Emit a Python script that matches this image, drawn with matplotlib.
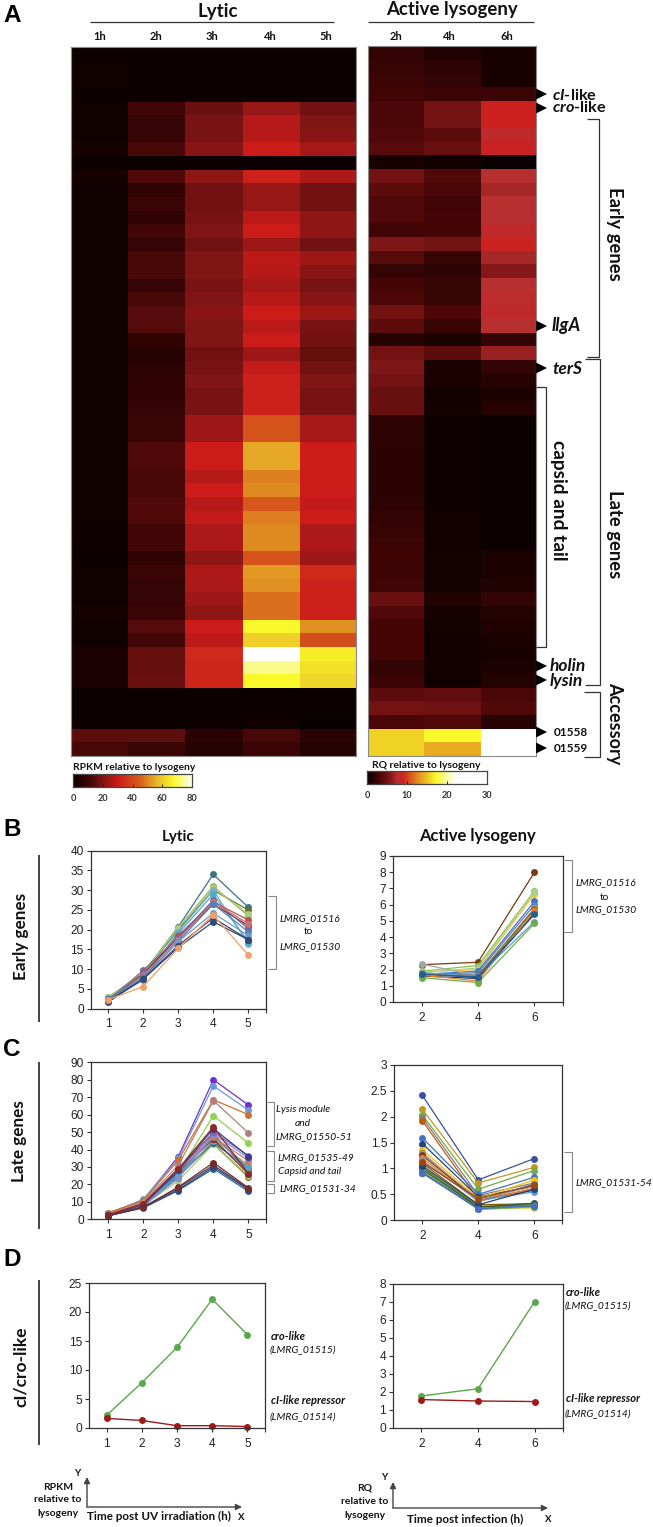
import numpy as np
import matplotlib
matplotlib.use("Agg")
import matplotlib.pyplot as plt
from matplotlib.colors import LinearSegmentedColormap, Normalize

W, H = 653, 1527
HDR = "Lato"
ARIAL = "Liberation Sans"
plt.rcParams["font.family"] = [ARIAL, "DejaVu Sans"]
plt.rcParams["mathtext.fontset"] = "custom"
plt.rcParams["mathtext.it"] = "Lato:italic:bold"
plt.rcParams["mathtext.rm"] = "Lato:bold"

# ---------- heatmap data ----------
lytic_hours = ["1h", "2h", "3h", "4h", "5h"]
active_hours = ["2h", "4h", "6h"]
lytic_1h = [1,2,2,1,2,2,2,3,1,3,2,2,2,2,2,2,2,2,2,2,2,2,2,2,2,2,2,2,2,2,2,2,2,2,2,1.5,1.5,1,2,2,2,2.5,2,2,4,4,4,1,1,1,15,12]
lytic_2h = [1,1,1,1,11,9,9,12,1,13,8,10,8,11,9,12,12,9,12,14,14,8,6,7,8,8,9,10,10,13,13,12,12,13,13,11,11,8,10,9,9,10,14,11,16,16,17,1,1,1,15,10]
lytic_3h = [1,1,1,1,17,19,19,21,1,22,18,18,19,20,18,20,20,19,20,21,20,20,18,19,20,19,19,24,24,30,30,27,30,27,29,26,26,22,26,26,24,22,30,28,33,32,32,1,1,1.5,7,6]
lytic_4h = [1,1,1,1,23,27,27,30,1,31,23,23,28,30,24,28,27,25,27,30,28,30,24,29,31,31,31,42,42,54,54,49,50,43,49,50,50,42,52,51,47,47,67,60,80,73,67,1,1,2,12,10]
lytic_5h = [1,1,1,1,18,20,21,25,1,26,18,18,22,22,18,24,21,19,21,24,19,18,16,18,20,19,19,25,25,30,30,30,30,29,30,26,26,24,33,31,31,31,51,41,65,63,61,1,1,0.5,7,6]
active_2h = [2,2.3,2.5,2.8,3.2,3.2,3.5,3.7,0.8,5,4,3.5,3.5,2.8,5.5,3.7,2.2,3,3.3,5,4,1.5,5,5.5,5,4.5,4.5,1.8,1.8,1.7,1.7,1.7,1.7,1.8,2,2.3,2.5,2.6,2.6,2.8,4.5,3.5,3,3,3,2,2.5,4,5,3.2,15.5,15.5]
active_4h = [1.2,1.8,2,2.5,5,5,4,4.5,0.5,3.5,3.2,2.8,3,3,5,2.3,1.8,2.3,2.3,3.3,2.3,1,4,1,1,0.5,0.7,0.4,0.4,0.4,0.4,0.4,0.4,0.4,0.5,0.5,0.5,0.6,0.6,0.7,1.2,0.8,0.6,0.5,0.5,0.5,0.5,4.3,4.8,3.5,17,14]
active_6h = [0.9,0.9,0.9,2.5,8.8,8.8,8,8.6,0.2,7.5,7,7.6,7.6,8,8.7,7,5.8,7.6,7.8,8,7.5,2,6.5,2,1.5,1,1.5,0.3,0.3,0.3,0.3,0.3,0.3,0.3,0.3,0.3,0.3,1,1,1.2,2,1.3,1.2,1,0.9,1,1.3,3.2,3.5,1.5,30,30]

lytic_cmap = LinearSegmentedColormap.from_list("lyt", [
    (0, "#080000"), (10/80, "#3c0505"), (20/80, "#801515"), (30/80, "#cc1c1a"),
    (45/80, "#d8601c"), (56/80, "#e8b828"), (67/80, "#f8f828"), (1, "#ffffff")])
active_cmap = LinearSegmentedColormap.from_list("act", [
    (0, "#080000"), (3/30, "#480606"), (6/30, "#8a1a1a"), (7.5/30, "#b83030"), (8.8/30, "#cc2020"),
    (12/30, "#e07a1c"), (17/30, "#f8f828"), (22/30, "#ffffff"), (1, "#ffffff")])

# ---------- line data ----------
early_x = [1, 2, 3, 4, 5]
early_colors = ["#3a7090","#9BBB59","#5F7530","#AFC97A","#7aaccc","#4BACC6","#C0504D","#772C2A","#8064A2","#CD7371","#4F81BD","#729ACA","#4D3B62","#2C4D75","#F0A06A"]
early_lytic = [
 [2.8,9,20.7,34,25.7],[3.0,9,20.5,31,23.5],[2.7,8.7,20,30,25],[2.9,8.7,20.5,30.5,24],
 [2.5,7.2,19.5,30,16.5],[2.6,7.5,19,29,17],[2.4,8.5,18.5,27,22.5],[2.2,8.8,18,26.5,21],
 [2.1,9.7,18,27.5,20.3],[2.3,8.5,17.5,27,21.5],[2.5,8,17,26.5,19.5],[2,7.5,17,24.2,18.5],
 [1.7,7.5,16,23,17.5],[2,7.5,15.5,22,17.5],[2.3,5.6,15.3,23.7,13.6]]
active_x = [2, 4, 6]
early_active_colors = ["#7a3a10","#8cc152","#f0c030","#A9D18E","#4472c4","#5b7fd0","#a5a5a5","#264478","#1f3864","#636363","#997300","#ed7d31","#5b9bd5","#70ad47","#255e91"]
early_active = [
 [2.3,2.45,8],[1.9,2.25,6.85],[1.85,2.0,6.65],[1.8,2.1,6.8],[1.7,1.9,6.2],[1.7,1.8,6.0],
 [2.35,1.6,5.8],[1.75,1.5,5.55],[1.6,1.45,5.5],[1.75,1.65,5.7],[1.75,1.6,5.75],[1.65,1.3,5.6],
 [1.8,1.6,4.95],[1.5,1.2,4.85],[1.7,1.55,5.4]]
late_colors = ["#7030d0","#6a9ad8","#d0702a","#b08080","#92d050","#9BBB59","#5F7530","#AFC97A","#276A7C","#729ACA","#F79646","#4F81BD","#772C2A","#C0504D","#4BACC6","#CD7371","#8090d0","#8064A2","#3a3a90","#8b2a2a","#3060a0","#2C4D75","#4D3B62","#772C2A"]
late_lytic = [
 [3.5,11,36,80,65.5],[3,11.5,35,76.5,62.5],[3.8,10.5,34,68.5,60],[3,10,31,68,49.5],[2.5,8,27,59.3,43.7],
 [2,8,25,43,24],[2,7.5,26,43.5,24.5],[2,8,22,43,25],[2.3,7.5,25,44,29],[2.5,8,24,45,28],
 [3,9.5,28,46,31],[2.5,8.5,25,48,29],[2.5,8,27,46,26],[3,9,29,49,27],[2.5,8,26,47,30],
 [3,9,29,47,33.5],[2.5,8,23.5,49,35],[2.5,8,28,50,36.5],[2.5,8.5,28,52,36],[2.5,9,29,53,26],
 [2,6.5,16.5,29,16],[2,6.8,17,30,17],[2,7,18,31,17.5],[2.3,7,18.5,32.5,18]]
late_active_colors = ["#3a50a0","#c09a20","#70ad47","#808080","#c55a11","#4472c4","#264478","#ffc000","#7f7f7f","#a5a5a5","#843c0c","#ed7d31","#5b9bd5","#7f6000","#bf9000","#548235","#385723","#ffd966","#a9d18e","#70ad47","#2e75b6","#264478","#9e480e","#4472c4"]
late_active = [
 [2.41,.78,1.19],[2.14,.72,1.02],[2.03,.6,.96],[1.98,.48,.72],[1.92,.4,.6],[1.59,.5,.83],
 [1.48,.45,.66],[1.36,.42,.78],[1.3,.38,.7],[1.28,.4,.65],[1.25,.38,.58],[1.2,.36,.62],
 [1.15,.38,.55],[1.1,.3,.32],[1.0,.28,.27],[1.02,.26,.30],[.98,.25,.33],[.9,.22,.23],
 [.93,.22,.25],[.95,.21,.26],[.92,.23,.28],[1.05,.3,.6],[1.12,.42,.68],[.91,.22,.29]]
cro_lytic = [2.2,7.8,13.9,22.2,16.1]
ci_lytic = [1.65,1.3,.4,.4,.25]
cro_active = [1.78,2.18,7.02]
ci_active = [1.58,1.5,1.47]

fig = plt.figure(figsize=(W/100, H/100), dpi=100, facecolor="white")

def ax_px(x0, y0, x1, y1, **kw):
    return fig.add_axes([x0/W, 1-y1/H, (x1-x0)/W, (y1-y0)/H], **kw)

# ---------- heatmaps ----------
def heat(box, cols, cmap, vmax):
    ax = ax_px(*box)
    ax.imshow(np.array(cols).T, cmap=cmap, norm=Normalize(0, vmax), aspect="auto", interpolation="nearest")
    ax.set_xticks([]); ax.set_yticks([])
    for s in ax.spines.values():
        s.set_color("#8a8a8a"); s.set_linewidth(0.8)
    return ax

heat((71, 47, 356, 756), [lytic_1h, lytic_2h, lytic_3h, lytic_4h, lytic_5h], lytic_cmap, 80)
heat((368, 46, 536, 756), [active_2h, active_4h, active_6h], active_cmap, 30)

def cbar(box, cmap, vmax, ticks):
    ax = ax_px(*box)
    ax.imshow(np.linspace(0, vmax, 256)[None, :], cmap=cmap, norm=Normalize(0, vmax), aspect="auto",
              extent=[0, vmax, 0, 1])
    ax.set_yticks([])
    ax.set_xticks(ticks)
    ax.tick_params(axis="x", direction="in", length=2, width=0.7, pad=5, labelsize=6.6, color="#222")
    for lab in ax.get_xticklabels():
        lab.set_fontweight("bold"); lab.set_family(HDR); lab.set_color("#333")
    for s in ax.spines.values():
        s.set_color("#444"); s.set_linewidth(0.9)

cbar((73, 774, 192, 787), lytic_cmap, 80, [0, 20, 40, 60, 80])
cbar((367, 771, 487, 784), active_cmap, 30, [0, 10, 20, 30])

# ---------- line panels ----------
def panel(box, xs, series, colors, ylim, yticks, ms=5.0, lw=0.9, ylabels=None):
    ax = ax_px(*box)
    pos = np.arange(1, len(xs)+1)
    for ys, c in zip(series, colors):
        ax.plot(pos, ys, "-o", color=c, lw=lw, ms=ms, mew=0, clip_on=False)
    ax.set_xlim(0.5, len(xs)+0.5)
    ax.set_ylim(*ylim)
    ax.set_xticks(pos); ax.set_xticklabels([str(v) for v in xs])
    ax.set_xticks([len(xs)+0.5], minor=True)
    ax.set_yticks(yticks)
    if ylabels:
        ax.set_yticklabels(ylabels)
    ax.tick_params(axis="both", which="both", direction="out", length=3, width=0.8, color="#333", labelcolor="#222", labelsize=8.6)
    ax.tick_params(axis="x", pad=4)
    ax.tick_params(axis="y", pad=2)
    for s in ax.spines.values():
        s.set_color("#333"); s.set_linewidth(0.9)
    return ax

panel((90.7, 850.7, 265.7, 1008.7), early_x, early_lytic, early_colors, (0, 40), range(0, 41, 5))
panel((393.3, 856, 562.7, 1002), active_x, early_active, early_active_colors, (0, 9), range(0, 10))
panel((90.7, 1062.3, 266, 1219.3), early_x, late_lytic, late_colors, (0, 90), range(0, 91, 10))
panel((394.3, 1064.7, 562.3, 1220.3), active_x, late_active, late_active_colors, (0, 3),
      [0, .5, 1, 1.5, 2, 2.5, 3], ylabels=["0", "0.5", "1", "1.5", "2", "2.5", "3"])
panel((89, 1283, 265, 1428), early_x, [cro_lytic, ci_lytic], ["#5aa84a", "#a01818"], (0, 25), range(0, 26, 5), lw=1.0)
panel((393, 1284, 563, 1428), active_x, [cro_active, ci_active], ["#5aa84a", "#a01818"], (0, 8), range(0, 9), lw=1.0)

# ---------- overlay for annotations ----------
ov = fig.add_axes([0, 0, 1, 1], zorder=10)
ov.set_xlim(0, W); ov.set_ylim(H, 0); ov.axis("off"); ov.patch.set_alpha(0)

def T(x, y, s, size=8, weight="normal", style="normal", ha="left", va="center", rot=0, fam=HDR, color="#111"):
    ov.text(x, y, s, fontsize=size, fontweight=weight, fontstyle=style, ha=ha, va=va, rotation=rot,
            family=fam, color=color, rotation_mode="anchor")

def L(xs, ys, lw=0.9, c="#333"):
    ov.plot(xs, ys, color=c, lw=lw, solid_capstyle="butt", solid_joinstyle="miter")

def bracket(x0, x1, y0, y1, lw=0.9, c="#333"):
    L([x0, x1, x1, x0], [y0, y0, y1, y1], lw=lw, c=c)

# panel letters
for x, y, s in [(3, 15, "A"), (3, 830, "B"), (3, 1050, "C"), (3, 1260, "D")]:
    T(x, y, s, size=17.5, weight="bold", fam=ARIAL, color="#000")

# headers
T(218, 12, "Lytic", size=13.5, weight="bold", ha="center")
T(452, 10, "Active lysogeny", size=13.4, weight="bold", ha="center")
L([90, 334], [22, 22]); L([368, 534], [22, 22])
for x, s in zip([100, 156, 212, 270, 326], lytic_hours):
    T(x, 37, s, size=8, weight="bold", ha="center")
for x, s in zip([396, 449, 507], active_hours):
    T(x, 36, s, size=8, weight="bold", ha="center")

T(73, 767, "RPKM relative to lysogeny", size=7.4, weight="bold")
T(372, 766, "RQ relative to lysogeny", size=7.5, weight="bold")

# gene markers
for y in [94, 108, 326, 368, 666, 680, 732, 748]:
    ov.fill([536, 547, 536], [y-5.5, y, y+5.5], color="#000", lw=0)
T(552, 95, r"$\mathit{cI}$-like", size=11.7, weight="bold")
T(552, 108, r"$\mathit{cro}$-like", size=11.7, weight="bold")
T(552, 326, "llgA", size=13, weight="bold", style="italic")
T(552, 369, "terS", size=12.5, weight="bold", style="italic")
T(550, 666, "holin", size=12.5, weight="bold", style="italic")
T(550, 681, "lysin", size=12.5, weight="bold", style="italic")
T(554, 732, "01558", size=8.5, weight="bold")
T(554, 748, "01559", size=8.5, weight="bold")

bracket(587, 599, 119, 357)
bracket(585, 600, 359, 685)
bracket(536, 546, 387, 647)
bracket(584, 600, 692, 757)
T(615, 234, "Early genes", size=13.2, weight="bold", ha="center", rot=270)
T(615, 534, "Late genes", size=13.2, weight="bold", ha="center", rot=270)
T(558, 500, "capsid and tail", size=13.8, weight="bold", ha="center", rot=270)
T(615, 723, "Accessory", size=13, weight="bold", ha="center", rot=270)

# row titles
T(178, 837, "Lytic", size=11, weight="bold", ha="center")
T(477, 836, "Active lysogeny", size=12, weight="bold", ha="center")
L([39, 39], [855, 1022], lw=1.2, c="#222")
L([39, 39], [1062, 1229], lw=1.2, c="#222")
L([39, 39], [1280, 1445], lw=1.2, c="#222")
T(21, 936, "Early genes", size=12.3, weight="bold", ha="center", rot=90)
T(19, 1141, "Late genes", size=12.3, weight="bold", ha="center", rot=90)
T(21, 1367, "cI/cro-like", size=12.5, weight="bold", ha="center", rot=90)

GR = "#888"
A = 7.4
bracket(268, 276, 896, 969, c=GR, lw=0.8)
T(279, 919, "LMRG_01516", size=A, style="italic"); T(309, 932, "to", size=A, ha="center"); T(279, 947, "LMRG_01530", size=A, style="italic")
bracket(564, 572, 860, 932, c=GR, lw=0.8)
T(575, 883, "LMRG_01516", size=A, style="italic"); T(605, 897, "to", size=A, ha="center"); T(575, 910, "LMRG_01530", size=A, style="italic")
bracket(267, 274, 1102, 1146, c=GR, lw=0.8)
bracket(267, 274, 1151, 1181, c=GR, lw=0.8)
bracket(267, 274, 1184, 1193, c=GR, lw=0.8)
T(276, 1110, "Lysis module", size=A, style="italic"); T(303, 1123, "and", size=A, style="italic", ha="center")
T(276, 1137, "LMRG_01550-51", size=A, style="italic")
T(278, 1158, "LMRG_01535-49", size=A, style="italic"); T(278, 1172, "Capsid and tail", size=A, style="italic")
T(279, 1189, "LMRG_01531-34", size=A, style="italic")
bracket(564, 572, 1152, 1212, c=GR, lw=0.8)
T(575, 1183, "LMRG_01531-54", size=A, style="italic")

for x, y1, y2, y3, y4 in [(271, 1336, 1350, 1401, 1417), (566, 1292, 1306, 1398, 1414)]:
    T(x, y1, "cro-like", size=8, weight="bold", style="italic")
    T(x-1, y2, "(LMRG_01515)", size=A, style="italic")
    T(x, y3, "cI-like repressor", size=8, weight="bold", style="italic")
    T(x-1, y4, "(LMRG_01514)", size=A, style="italic")

# axis key
def arrow(x0, y0, x1, y1):
    ov.annotate("", xy=(x1, y1), xytext=(x0, y0),
                arrowprops=dict(arrowstyle="-|>", color="#444", lw=1.0, mutation_scale=9, shrinkA=0, shrinkB=0))

arrow(87, 1507, 87, 1477); arrow(87, 1507, 242, 1507)
T(77, 1474, "Y", size=7, weight="bold", ha="center")
T(58, 1487, "RPKM", size=7.5, weight="bold", ha="center")
T(58, 1500, "relative to", size=7.5, weight="bold", ha="center")
T(58, 1513, "lysogeny", size=7.5, weight="bold", ha="center")
T(87, 1516, "Time post UV irradiation (h)", size=8.4, weight="bold")
T(241, 1517, "X", size=7, weight="bold", ha="center")

arrow(393, 1508, 393, 1482); arrow(393, 1508, 548, 1508)
T(384, 1478, "Y", size=7, weight="bold", ha="center")
T(365, 1488, "RQ", size=7.5, weight="bold", ha="center")
T(365, 1502, "relative to", size=7.5, weight="bold", ha="center")
T(365, 1515, "lysogeny", size=7.5, weight="bold", ha="center")
T(407, 1519, "Time post infection (h)", size=8.4, weight="bold")
T(548, 1519, "X", size=7, weight="bold", ha="center")

fig.savefig("out.png", dpi=100)
